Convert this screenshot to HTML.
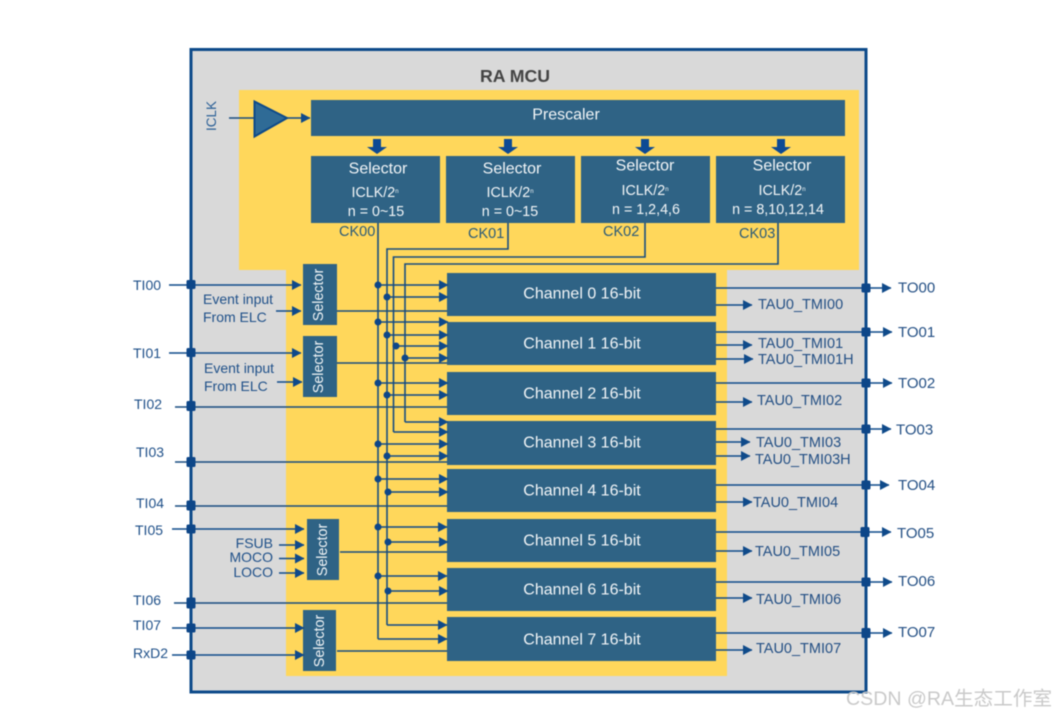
<!DOCTYPE html>
<html>
<head>
<meta charset="utf-8">
<style>
html,body{margin:0;padding:0;background:#fff;width:1056px;height:716px;overflow:hidden}
svg{display:block;filter:blur(.45px)}
text{font-family:"Liberation Sans","Noto Sans CJK SC",sans-serif}
.w{fill:#f2f5f7;text-anchor:middle;font-size:16px}
.s{fill:#f2f5f7;text-anchor:middle;font-size:14.3px}
.l{fill:#1f5089;font-size:14px}
.c{fill:#2a5a78;font-size:14.5px}
.r{fill:#234f84;font-size:14.5px}
.o{fill:#234f84;font-size:15px}
.wire{fill:none;stroke:#174c80;stroke-width:1.6}
.a{fill:none;stroke:#0f4a8a;stroke-width:1.6;marker-end:url(#m)}
.d{fill:#0d4688}
.b{fill:#2f6385}
</style>
</head>
<body>
<svg width="1056" height="716" viewBox="0 0 1056 716" xmlns="http://www.w3.org/2000/svg">
<defs>
<marker id="m" markerUnits="userSpaceOnUse" markerWidth="10" markerHeight="11" refX="9" refY="5.5" orient="auto">
<path d="M0 0.5L9.500 5.500L0 10.500Z" fill="#0f4a8a"/>
</marker>
<g id="dn"><path d="M-4 0H4V8H10L0 15L-10 8H-4Z" fill="#0d4a94"/></g>
</defs>

<rect x="191" y="49.500" width="675" height="642.500" fill="#d9d9d9" stroke="#0d4a8a" stroke-width="3"/>
<path d="M239 90H859V270H727V676H286V270H239Z" fill="#ffd75b"/>

<text x="515" y="82" text-anchor="middle" font-size="17.700" font-weight="bold" fill="#444">RA MCU</text>
<text transform="translate(216,116) rotate(-90)" text-anchor="middle" font-size="13.500" fill="#2a5f96">ICLK</text>

<!-- clock -->
<path class="wire" d="M229 118H255"/>
<path d="M254.500 101.500V136.500L287 118Z" fill="#2f6b96" stroke="#0d4a8a" stroke-width="2"/>
<path class="a" d="M287 118H310"/>
<rect class="b" x="311" y="100" width="534" height="36"/>
<text class="w" x="566" y="119.500">Prescaler</text>

<use href="#dn" x="377" y="139"/><use href="#dn" x="508" y="139"/><use href="#dn" x="645" y="139"/><use href="#dn" x="781" y="139"/>

<rect class="b" x="311" y="156" width="129" height="67"/>
<rect class="b" x="446" y="156" width="129" height="67"/>
<rect class="b" x="581" y="156" width="129" height="67"/>
<rect class="b" x="716" y="156" width="129" height="67"/>

<text class="w" x="378" y="173.500">Selector</text>
<text class="w" x="512" y="173.500">Selector</text>
<text class="w" x="645" y="170.500">Selector</text>
<text class="w" x="782" y="170.500">Selector</text>

<text class="s" x="375" y="197">ICLK/2<tspan font-size="6" dy="-4">n</tspan></text>
<text class="s" x="510" y="197">ICLK/2<tspan font-size="6" dy="-4">n</tspan></text>
<text class="s" x="645" y="195">ICLK/2<tspan font-size="6" dy="-4">n</tspan></text>
<text class="s" x="782" y="195">ICLK/2<tspan font-size="6" dy="-4">n</tspan></text>
<text class="s" x="376" y="216">n = 0~15</text>
<text class="s" x="510" y="216">n = 0~15</text>
<text class="s" x="646" y="214">n = 1,2,4,6</text>
<text class="s" x="778" y="214">n = 8,10,12,14</text>

<text class="c" x="339" y="236">CK00</text>
<text class="c" x="468" y="238">CK01</text>
<text class="c" x="603" y="236">CK02</text>
<text class="c" x="739" y="238">CK03</text>

<!-- clock buses -->
<path class="wire" d="M378 223V639"/>
<path class="wire" d="M508 223V249H387V625"/>
<path class="wire" d="M645 223V257H393.500V432"/>
<path class="wire" d="M778 223V264H405V422"/>

<!-- channel blocks -->
<rect class="b" x="447" y="273" width="269" height="43"/>
<rect class="b" x="447" y="322" width="269" height="43"/>
<rect class="b" x="447" y="372" width="269" height="43"/>
<rect class="b" x="447" y="421" width="269" height="44"/>
<rect class="b" x="447" y="469" width="269" height="43"/>
<rect class="b" x="447" y="519" width="269" height="43"/>
<rect class="b" x="447" y="568" width="269" height="43"/>
<rect class="b" x="447" y="617" width="269" height="44"/>

<text class="w" x="582" y="298.500">Channel 0 16-bit</text>
<text class="w" x="582" y="348.500">Channel 1 16-bit</text>
<text class="w" x="582" y="398.500">Channel 2 16-bit</text>
<text class="w" x="582" y="447.500">Channel 3 16-bit</text>
<text class="w" x="582" y="495.500">Channel 4 16-bit</text>
<text class="w" x="582" y="545.500">Channel 5 16-bit</text>
<text class="w" x="582" y="594.500">Channel 6 16-bit</text>
<text class="w" x="582" y="644.500">Channel 7 16-bit</text>

<!-- channel arrows -->
<path class="a" d="M378 285H448"/><path class="a" d="M387 297H448"/>
<path class="a" d="M378 322H448"/><path class="a" d="M387 335H448"/><path class="a" d="M396 346H448"/><path class="a" d="M405 358H448"/>
<path class="a" d="M378 383H448"/><path class="a" d="M387 395H448"/>
<path class="a" d="M405 422H448"/><path class="a" d="M393.500 432H448"/><path class="a" d="M378 444H448"/><path class="a" d="M387 456H448"/>
<path class="a" d="M378 479H448"/><path class="a" d="M388 492H448"/>
<path class="a" d="M378 527H447"/><path class="a" d="M388 542H448"/>
<path class="a" d="M378 576H447"/><path class="a" d="M388 591H448"/>
<path class="a" d="M387 625H447"/><path class="a" d="M378 639H447"/>

<g class="d">
<circle cx="378" cy="285" r="3.500"/><circle cx="387" cy="297" r="3.500"/>
<circle cx="378" cy="322" r="3.500"/><circle cx="387" cy="335" r="3.500"/><circle cx="396" cy="346" r="3.500"/><circle cx="405" cy="358" r="3.500"/>
<circle cx="378" cy="383" r="3.500"/><circle cx="387" cy="395" r="3.500"/>
<circle cx="378" cy="444" r="3.500"/><circle cx="387" cy="456" r="3.500"/>
<circle cx="378" cy="479" r="3.500"/><circle cx="388" cy="492" r="3.500"/>
<circle cx="378" cy="527" r="3.500"/><circle cx="388" cy="542" r="3.500"/>
<circle cx="378" cy="576" r="3.500"/><circle cx="388" cy="591" r="3.500"/>
</g>

<!-- input selectors -->
<rect class="b" x="303" y="264" width="34" height="61"/>
<rect class="b" x="303" y="336" width="34" height="61"/>
<rect class="b" x="307" y="519" width="32" height="61"/>
<rect class="b" x="303" y="610" width="33" height="61"/>
<text class="s" transform="translate(323,295) rotate(-90)">Selector</text>
<text class="s" transform="translate(323,367) rotate(-90)">Selector</text>
<text class="s" transform="translate(327,550) rotate(-90)">Selector</text>
<text class="s" transform="translate(324,641) rotate(-90)">Selector</text>

<!-- data lines into channels -->
<path class="wire" d="M337 311H447"/>
<path class="wire" d="M337 363H447"/>
<path class="wire" d="M175 407H447"/>
<path class="wire" d="M175 462H447"/>
<path class="wire" d="M175 506H447"/>
<path class="wire" d="M340 552H447"/>
<path class="wire" d="M174 603H447"/>
<path class="wire" d="M337 651H447"/>

<!-- left inputs -->
<path class="a" d="M169 285H301"/>
<path class="a" d="M169 353H301"/>
<path class="a" d="M276 311H301"/>
<path class="a" d="M277 382H302"/>
<path class="a" d="M172 529H304"/>
<path class="a" d="M279 545H304"/>
<path class="a" d="M279 558.500H304"/>
<path class="a" d="M279 573H304"/>
<path class="a" d="M172 628H304"/>
<path class="a" d="M172 655H304"/>

<g class="d">
<rect x="186.500" y="280" width="9" height="9" rx="1.500"/>
<rect x="186.500" y="348" width="9" height="9" rx="1.500"/>
<rect x="186.500" y="401" width="9" height="10" rx="1.500"/>
<rect x="186.500" y="457" width="9" height="10" rx="1.500"/>
<rect x="186.500" y="500.500" width="9" height="10" rx="1.500"/>
<rect x="186.500" y="524.500" width="9" height="9" rx="1.500"/>
<rect x="186.500" y="597.500" width="9" height="11" rx="1.500"/>
<rect x="186.500" y="623.500" width="9" height="9" rx="1.500"/>
<rect x="186.500" y="650.500" width="9" height="9" rx="1.500"/>
</g>

<text class="l" x="133" y="290">TI00</text>
<text class="l" x="133" y="358">TI01</text>
<text class="l" x="134" y="409">TI02</text>
<text class="l" x="136" y="457">TI03</text>
<text class="l" x="136" y="508">TI04</text>
<text class="l" x="135" y="535">TI05</text>
<text class="l" x="133" y="605">TI06</text>
<text class="l" x="133" y="630">TI07</text>
<text class="l" x="133" y="658">RxD2</text>

<text class="l" x="203" y="304">Event input</text>
<text class="l" x="203" y="322">From ELC</text>
<text class="l" x="204" y="373">Event input</text>
<text class="l" x="204" y="391">From ELC</text>
<text class="l" x="273" y="548" text-anchor="end">FSUB</text>
<text class="l" x="273" y="562" text-anchor="end">MOCO</text>
<text class="l" x="273" y="577" text-anchor="end">LOCO</text>

<!-- right outputs -->
<path class="a" d="M716 288H891"/>
<path class="a" d="M716 332H892"/>
<path class="a" d="M716 383H892"/>
<path class="a" d="M716 429H891"/>
<path class="a" d="M716 485H889"/>
<path class="a" d="M716 532H891"/>
<path class="a" d="M716 582H892"/>
<path class="a" d="M716 633H892"/>

<path class="a" d="M716 305H752"/>
<path class="a" d="M716 345H752"/>
<path class="a" d="M716 359H753"/>
<path class="a" d="M716 402H752"/>
<path class="a" d="M716 442H750"/>
<path class="a" d="M716 456H750"/>
<path class="a" d="M716 502H752"/>
<path class="a" d="M716 551H752"/>
<path class="a" d="M716 598H752"/>
<path class="a" d="M716 650H752"/>

<g class="d">
<rect x="861.500" y="283.500" width="9" height="9" rx="1.500"/>
<rect x="861.500" y="327.500" width="9" height="9" rx="1.500"/>
<rect x="861.500" y="378.500" width="9" height="9" rx="1.500"/>
<rect x="861.500" y="424.500" width="9" height="9" rx="1.500"/>
<rect x="861.500" y="480.500" width="9" height="9" rx="1.500"/>
<rect x="860.500" y="527" width="9" height="10" rx="1.500"/>
<rect x="861.500" y="577.500" width="9" height="9" rx="1.500"/>
<rect x="861.500" y="628" width="9" height="10" rx="1.500"/>
</g>

<text class="o" x="898" y="292.500">TO00</text>
<text class="o" x="898" y="337">TO01</text>
<text class="o" x="898" y="388">TO02</text>
<text class="o" x="896" y="434.500">TO03</text>
<text class="o" x="898" y="490">TO04</text>
<text class="o" x="897" y="538">TO05</text>
<text class="o" x="898" y="586">TO06</text>
<text class="o" x="898" y="637">TO07</text>

<text class="r" x="758" y="309">TAU0_TMI00</text>
<text class="r" x="758" y="348">TAU0_TMI01</text>
<text class="r" x="758" y="364">TAU0_TMI01H</text>
<text class="r" x="757" y="405">TAU0_TMI02</text>
<text class="r" x="756" y="447">TAU0_TMI03</text>
<text class="r" x="755" y="464">TAU0_TMI03H</text>
<text class="r" x="753" y="507">TAU0_TMI04</text>
<text class="r" x="755" y="556">TAU0_TMI05</text>
<text class="r" x="756" y="604">TAU0_TMI06</text>
<text class="r" x="756" y="653">TAU0_TMI07</text>

<text x="846" y="705" font-size="19.600" fill="#c9c9c9">CSDN @RA生态工作室</text>
</svg>
</body>
</html>
